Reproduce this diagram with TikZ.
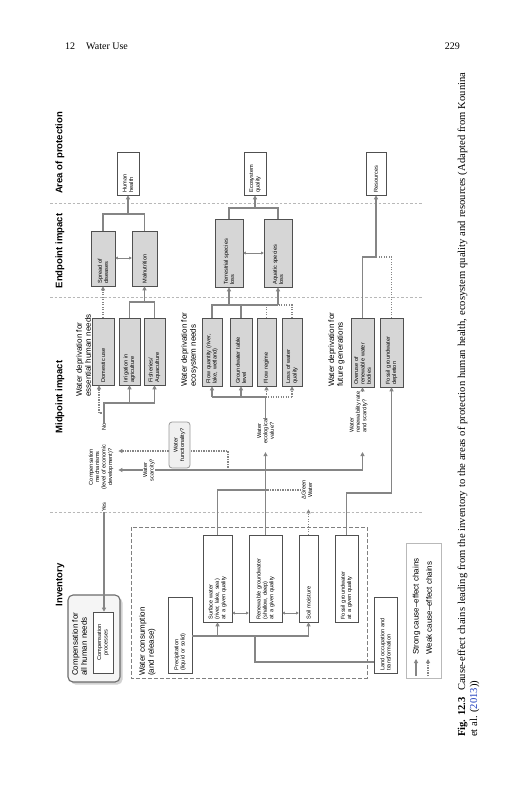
\documentclass[tikz,border=0pt]{standalone}
\usepackage{fontspec}
\setmainfont{Liberation Serif}
\newfontfamily\fsans{Liberation Sans}
\usetikzlibrary{arrows.meta}
\definecolor{lineg}{HTML}{858585}
\definecolor{boxg}{HTML}{D6D6D6}
\definecolor{bord}{HTML}{505050}
\definecolor{sepg}{HTML}{B8B8B8}
\definecolor{linkblue}{HTML}{1F3FBF}
\newcommand\fbx[7]{%
  \pgfmathsetmacro\bxw{#5-#3}%
  \pgfmathsetmacro\bxh{#4-#2}%
  \pgfmathsetmacro\bxt{#5-#3-5}%
  \pgfmathsetmacro\bxcx{(#2+#4)/2}%
  \pgfmathsetmacro\bxcy{(#3+#5)/2}%
  \node[bx,#6,minimum width=\bxw pt,minimum height=\bxh pt,text width=\bxt pt] (#1) at (\bxcx,\bxcy) {#7};}
\begin{document}
\begin{tikzpicture}[x=1pt,y=-1pt,
  bx/.style={rotate=90, draw=bord, line width=0.55pt, fill=white, inner xsep=2.5pt, inner ysep=1pt, align=left, font=\fsans\fontsize{5.6}{6.4}\selectfont},
  gbx/.style={fill=boxg},
  lbl/.style={rotate=90, inner sep=0.5pt, align=center, font=\fsans\fontsize{5.6}{6.4}\selectfont},
  lblm/.style={rotate=90, inner sep=0pt, align=left, font=\fsans\fontsize{8}{8.8}\selectfont},
  hdr/.style={rotate=90, inner sep=0pt, font=\fsans\bfseries\fontsize{9.5}{11}\selectfont},
  strong/.style={draw=lineg, line width=1.5pt},
  weak/.style={draw=lineg, line width=1.5pt, dash pattern=on 1.2pt off 1.3pt},
  arr/.style={-{Triangle[length=4pt,width=4pt]}},
  darr/.style={draw=lineg, line width=0.8pt, {Triangle[length=2.5pt,width=2.8pt]}-{Triangle[length=2.5pt,width=2.8pt]}},
  sepline/.style={draw=sepg, line width=0.8pt, dash pattern=on 2.5pt off 2pt},
  dbox/.style={draw=gray, fill=none, dash pattern=on 4pt off 2pt, line width=0.7pt},
  funsty/.style={rounded corners=3pt, fill=gray!12, draw=gray!80, line width=0.8pt, align=center},
  cfasty/.style={rounded corners=5pt, fill=gray!8, draw=gray!85!black, line width=1.1pt},
  legsty/.style={draw=gray!55, line width=1pt, fill=white},
]
\fill[white] (0,0) rectangle (527,800);
\useasboundingbox (0,0) rectangle (527,800);

% page header
\node[anchor=base west, inner sep=0pt, font=\fontsize{10}{12}\selectfont] (hdl) at (65,50) {12\hspace{1.1em}Water Use};
\node[anchor=base east, inner sep=0pt, font=\fontsize{10}{12}\selectfont] (hdr229) at (460,50) {229};

% separators
\draw[sepline] (50,203) -- (423,203);
\draw[sepline] (50,297) -- (423,297);
\draw[sepline] (50,512) -- (423,512);

% headers
\node[hdr] (hInv) at (60,585) {Inventory};
\node[hdr] (hMid) at (60,397) {Midpoint impact};
\node[hdr] (hEnd) at (60,251) {Endpoint impact};
\node[hdr] (hAoP) at (60,153) {Area of protection};

% areas of protection
\fbx{hh}{117}{152}{139}{195}{}{Human\\health}
\fbx{eq}{244}{152}{266}{195}{}{Ecosystem\\quality}
\fbx{res}{366}{152}{386}{195}{}{Resources}

% endpoint
\fbx{sd}{91}{231}{115}{286}{gbx}{Spread of\\diseases}
\fbx{mal}{132}{231}{157}{286}{gbx}{Malnutrition}
\fbx{ter}{215}{219}{243}{287}{gbx}{Terrestrial species\\loss}
\fbx{aq}{264}{219}{292}{287}{gbx}{Aquatic species\\loss}

% midpoint
\node[lblm, anchor=north west] (ehn) at (76,397) {Water deprivation for\\essential human needs};
\fbx{dom}{92}{318}{114}{385}{gbx}{Domestic use}
\fbx{irr}{119}{318}{140}{385}{gbx}{Irrigation in\\agriculture}
\fbx{fis}{144}{318}{165}{385}{gbx}{Fisheries/\\Aquaculture}
\node[lblm, anchor=north west] (ecn) at (181,387) {Water deprivation for\\ecosystem needs};
\fbx{fq}{202}{318}{222}{386}{gbx}{Flow quantity (river,\\lake, wetland)}
\fbx{gwt}{230}{318}{252}{386}{gbx}{Groundwater table\\level}
\fbx{fr}{257}{318}{276}{386}{gbx}{Flow regime}
\fbx{lwq}{282}{318}{302}{386}{gbx}{Loss of water\\quality}
\node[lblm, anchor=north west] (fgn) at (328,387) {Water deprivation for\\future generations};
\fbx{ovr}{351}{318}{374}{387}{gbx}{Overuse of\\renewable water\\bodies}
\fbx{fgd}{380}{318}{403}{387}{gbx}{Fossil groundwater\\depletion}

% question labels
\node[lbl, inner ysep=5pt] (mech) at (101,467) {Compensation\\mechanisms\\(level of economic\\development)?};
\node[lbl] (no) at (104,427) {No};
\node[lbl] (yes) at (104,507) {Yes};
\node[lbl] (ws) at (149,470) {Water\\scarcity?};
\node[lbl] (el) at (265.5,431) {Water\\ecological\\value?};
\node[lbl] (gw) at (307,490) {ΔGreen\\Water};
\node[lbl, align=left, anchor=north west] (rr) at (349,433) {Water\\renewability rate\\and scarcity?};
\fbx{fun}{169}{422}{190}{468}{funsty}{Water\\functionality?}

% inventory
\fill[gray!35, rounded corners=5pt] (70.5,597.5) rectangle (122.5,684.5);
\fbx{cfa}{68}{595}{120}{682}{cfasty}{}
\node[lblm, anchor=north west] (cfat) at (72,676) {Compensation for\\all human needs};
\fbx{cp}{93}{612}{113}{673}{align=center}{Compensation\\processes}
\fbx{wcb}{131}{527}{367}{678}{dbox}{}
\node[lblm, anchor=north west] (wct) at (139,676) {Water consumption\\(and release)};
\fbx{prec}{168}{597}{192}{673}{}{Precipitation\\(liquid or solid)}
\fbx{sw}{203}{535}{232}{622}{}{Surface water\\(river, lake, sea)\\at a given quality}
\fbx{rgw}{249}{535}{282}{622}{}{Renewable groundwater\\(shallow, deep)\\at a given quality}
\fbx{sm}{299}{535}{318}{622}{}{Soil moisture}
\fbx{fg}{335}{535}{358}{622}{}{Fossil groundwater\\at a given quality}
\fbx{lo}{374}{597}{397}{673}{}{Land occupation and\\transformation}

% legend
\fbx{leg}{406}{543}{441}{678}{legsty}{}
\coordinate (ls1) at (416,676);
\coordinate (le1) at (416,659);
\coordinate (ls2) at (428,676);
\coordinate (le2) at (428,659);
\draw[strong,arr] (ls1) -- (le1);
\draw[weak,arr] (ls2) -- (le2);
\node[lblm, anchor=west] (lt1) at (416.5,655) {Strong cause–effect chains};
\node[lblm, anchor=west] (lt2) at (429,655) {Weak cause–effect chains};

% endpoint -> AoP
\draw[strong] (sd.east) -- (sd.east |- 0,214) -- (mal.east |- 0,214) -- (mal.east);
\draw[strong,arr] (hh.west |- 0,214) -- (hh.west);
\draw[strong] (ter.east) -- (ter.east |- 0,208) -- (aq.east |- 0,208) -- (aq.east);
\draw[strong,arr] (eq.west |- 0,208) -- (eq.west);
\draw[strong] (ovr.east) -- (ovr.east |- 0,257) -- (res.west |- 0,257);
\draw[weak] (fgd.east) -- (fgd.east |- 0,257) -- (res.west |- 0,257);
\draw[strong,arr] (res.west |- 0,257) -- (res.west);

% double arrows
\draw[darr] (sd.south |- 0,258) -- (mal.north |- 0,258);
\draw[darr] (ter.south |- 0,253) -- (aq.north |- 0,253);
\draw[darr] (sw.south |- 0,613) -- (rgw.north |- 0,613);
\draw[darr] (rgw.south |- 0,613) -- (sm.north |- 0,613);

% midpoint -> endpoint
\draw[weak,arr] (dom.east) -- (sd.west);
\draw[strong] (irr.east) -- (irr.east |- 0,302) -- (fis.east |- 0,302) -- (fis.east);
\draw[strong,arr] (mal.west |- 0,302) -- (mal.west);
\draw[strong] (fq.east) -- (fq.east |- 0,305) -- (aq.west |- 0,305);
\draw[strong] (gwt.east) -- (gwt.east |- 0,305);
\draw[weak] (fr.east) -- (fr.east |- 0,305);
\draw[weak] (lwq.east) -- (lwq.east |- 0,305) -- (aq.west |- 0,305);
\draw[strong,arr] (ter.west |- 0,305) -- (ter.west);
\draw[strong,arr] (aq.west |- 0,305) -- (aq.west);

% No / Yes
\draw[strong,arr] (no.east) -- (no.east |- 0,403) -- (fis.west |- 0,403) -- (fis.west);
\draw[strong,arr] (irr.west |- 0,403) -- (irr.west);
\coordinate (nd) at (99,413);
\draw[weak] (no.east |- nd) -- (nd);
\draw[weak,arr] (nd) -- (nd |- dom.west);
\draw[strong,arr] (yes.west) -- (yes.west |- cp.east);

% scarcity
\draw[strong,arr] (ws.north) -- (ws.north -| mech.south);
\draw[strong,arr] (ws.south) -| (ovr.west |- 0,452);
\draw[strong,arr] (rr.east -| ovr.west) -- (ovr.west);
\coordinate (wfj) at (228,470);
\draw[weak] (wfj) -- (wfj |- 0,451) -- (fun.south |- 0,451);
\draw[weak,arr] (fun.north |- 0,451) -- (mech.south |- 0,451);

% ecological value
\draw[strong,arr,shorten >=8pt] (rgw.east) -- (el.west);
\draw[strong] (el.east) -- (el.east |- 0,397) -- (fq.west |- 0,397);
\draw[strong,arr] (fq.west |- 0,397) -- (fq.west);
\draw[strong,arr] (gwt.west |- 0,397) -- (gwt.west);
\draw[weak] (el.east |- 0,397) -- (lwq.west |- 0,397);
\draw[weak,arr] (fr.west |- 0,397) -- (fr.west);
\draw[weak,arr] (lwq.west |- 0,397) -- (lwq.west);

% surface water, green water
\draw[strong] (sw.east) |- (rgw.east |- 0,490);
\draw[weak,arr,shorten >=9pt] (sm.east) -- (sm.east |- gw.west);
\draw[weak] (gw.north) -- (gw.north -| rgw.east);

% fossil
\draw[strong,arr] (fg.east) -- (fg.east |- 0,493) -- (fgd.west |- 0,493) -- (fgd.west);

% precipitation, land
\draw[strong] (prec.south |- 0,636) -- (sm.west |- 0,636);
\draw[strong,arr] (sw.west |- 0,636) -- (sw.west);
\draw[strong,arr] (sm.west |- 0,636) -- (sm.west);
\coordinate (lj) at (255,636);
\draw[strong] (lo.north |- 0,662) -| (lj);

% caption
\node[rotate=90, anchor=base west, inner sep=0pt, font=\fontsize{10.6}{12}\selectfont] (cap1) at (465,737) {\makebox[664pt][s]{\textbf{\hbox{Fig. 12.3}}\hspace{0.6em}Cause-effect chains leading from the inventory to the areas of protection human health, ecosystem quality and resources (Adapted from Kounina}};
\node[rotate=90, anchor=base west, inner sep=0pt, font=\fontsize{10.6}{12}\selectfont] (cap2) at (477,737) {et al. (\textcolor{linkblue}{2013}))};
\end{tikzpicture}
\end{document}
